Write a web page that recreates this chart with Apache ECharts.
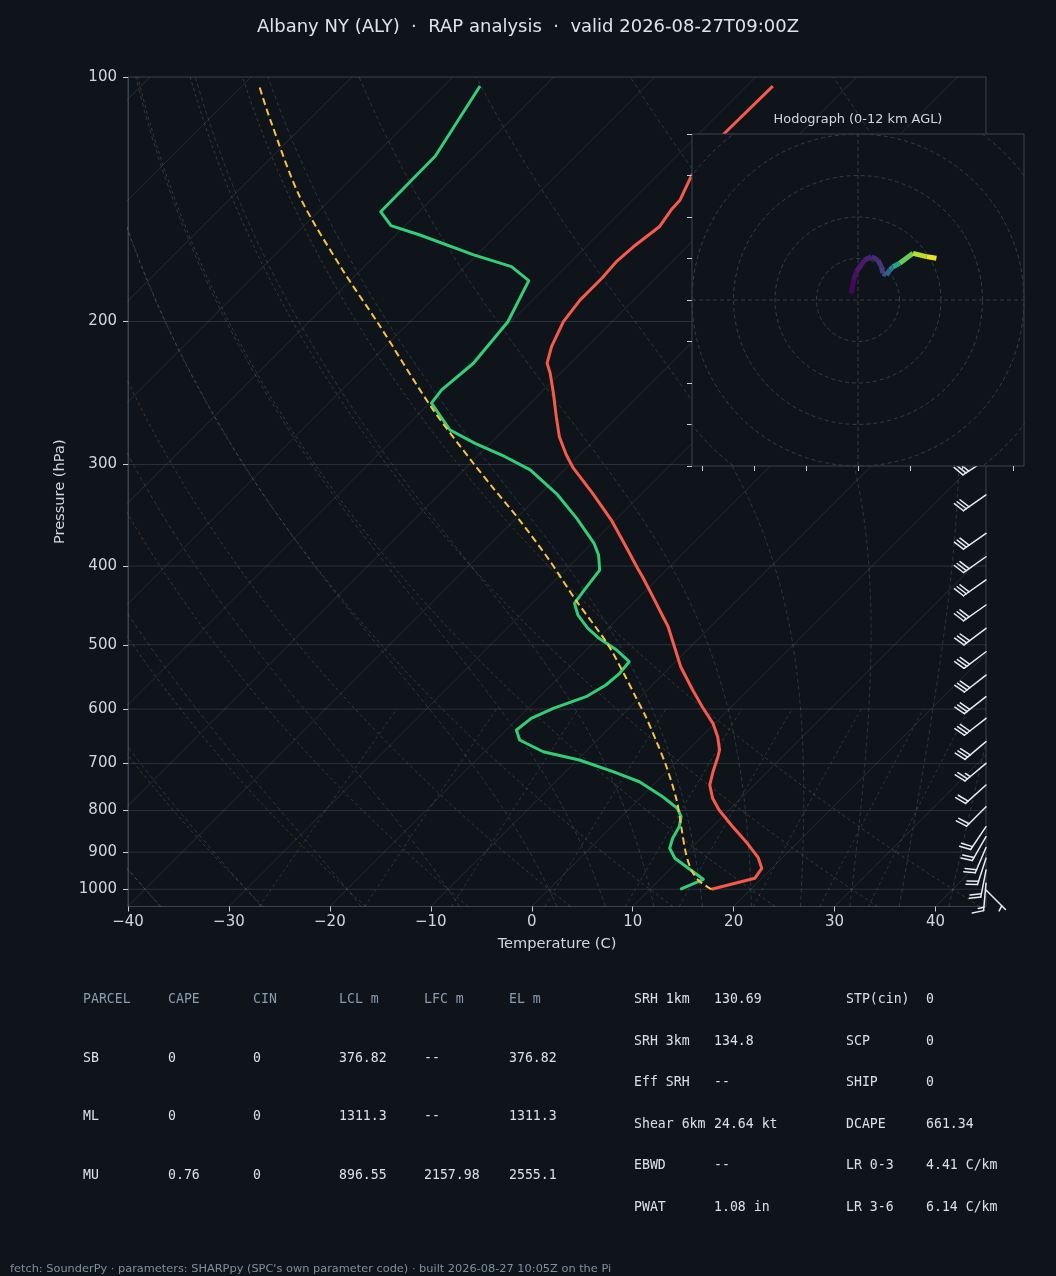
<!DOCTYPE html>
<html><head><meta charset="utf-8">
<script src="https://cdn.jsdelivr.net/npm/echarts@6/dist/echarts.min.js"></script>
<style>html,body{margin:0;padding:0;background:#0f141a;}#c{width:1056px;height:1276px;}</style>
</head><body><div id="c"></div>
<script>
// ---------------- data ----------------
const tempP = [1000, 969.3, 942.3, 914.4, 877.9, 837.4, 798.7, 772.7, 744.1, 716.5, 686.7, 673.8, 648.9, 624.7, 596.0, 568.5, 532.1, 502.8, 475.1, 461.8, 436.3, 412.3, 402.7, 378.7, 351.1, 325.5, 303.1, 292.0, 277.3, 261.9, 245.1, 231.6, 225.1, 214.8, 200.1, 188.2, 176.9, 168.8, 161.8, 152.9, 145.8, 141.7, 132.1, 117.3, 102.6];
const tempC = [16.1, 19.3, 19.0, 17.6, 15.1, 12.0, 9.0, 7.2, 5.6, 4.6, 3.6, 3.1, 1.6, -0.2, -2.9, -5.5, -9.0, -11.6, -14.2, -15.7, -18.7, -21.7, -23.0, -26.3, -30.4, -34.9, -39.3, -41.3, -43.8, -46.1, -48.7, -51.0, -52.3, -53.5, -54.8, -55.3, -55.3, -55.5, -55.3, -54.7, -55.2, -55.3, -56.6, -57.5, -57.4];
const dewP = [1000, 972.1, 915.9, 890.3, 865.4, 837.4, 814.0, 794.9, 769.2, 737.2, 716.5, 693.2, 677.1, 655.0, 636.7, 615.9, 598.7, 579.3, 560.4, 542.1, 524.6, 507.5, 491.0, 477.2, 459.6, 444.6, 430.2, 404.6, 387.7, 375.1, 349.4, 327.0, 304.6, 293.4, 282.5, 272.0, 252.1, 242.8, 225.1, 200.1, 178.1, 171.2, 165.6, 156.5, 152.4, 146.5, 125.1, 102.6];
const dewC = [13.0, 14.3, 9.4, 7.9, 7.2, 6.7, 5.9, 4.7, 2.1, -1.7, -5.3, -9.8, -14.2, -17.7, -19.0, -18.7, -17.5, -15.4, -14.6, -14.4, -14.6, -17.0, -19.9, -22.0, -24.3, -25.8, -26.1, -26.6, -28.2, -29.8, -34.0, -38.2, -43.4, -47.2, -51.5, -55.3, -59.8, -60.1, -59.6, -60.3, -62.3, -65.4, -70.3, -77.6, -81.4, -83.8, -83.9, -86.4];
const parcelP = [1000, 976.0, 946.9, 903.0, 837.4, 776.4, 706.5, 655.0, 613.2, 579.3, 542.1, 498.0, 440.5, 393.2, 351.1, 319.5, 298.9, 254.6, 201.0, 172.8, 140.4, 113.0, 103.0];
const parcelC = [16.1, 14.0, 12.2, 10.0, 6.9, 3.8, -0.5, -4.2, -7.5, -10.5, -14.0, -18.6, -26.0, -32.6, -39.5, -45.5, -49.7, -59.5, -73.0, -81.8, -93.3, -103.8, -108.1];

const barbP   = [296.0, 327.0, 364.6, 389.6, 416.1, 446.7, 477.2, 510.0, 544.8, 579.3, 615.9, 658.1, 699.7, 744.1, 791.3, 837.4, 861.5, 888.3, 916.0, 947.0, 983.0, 1002.0];
const barbSpd = [30, 30, 30, 30, 30, 30, 30, 30, 30, 30, 30, 30, 25, 20, 20, 20, 20, 20, 20, 20, 15, 5];
const barbDir = [237, 235, 235, 235, 235, 235, 233, 233, 232, 232, 232, 230, 230, 228, 225, 214, 210, 203, 198, 191, 185, 135];

const hodoU = [-3.2, -2.1, -0.8, 3.2, 6.5, 9.6, 11.3, 12.0, 13.7, 15.3, 16.9, 20.1, 26.5, 33.0, 37.8];
const hodoV = [3.2, 9.6, 13.6, 19.3, 20.9, 19.3, 16.0, 12.9, 12.0, 14.5, 16.0, 17.7, 22.5, 20.9, 20.1];
const hodoH = [0, 0.4, 0.7, 1.0, 1.3, 1.6, 1.9, 2.4, 3.0, 4.2, 6.0, 8.2, 10.2, 11.2, 12.0];

const xTicks = [-40, -30, -20, -10, 0, 10, 20, 30, 40];
const pTicks = [100, 200, 300, 400, 500, 600, 700, 800, 900, 1000];
const isobarLevels = [200, 300, 400, 500, 600, 700, 800, 900, 1000];
const isothermT0 = [-130, -120, -110, -100, -90, -80, -70, -60, -50, -40, -30, -20, -10, 0, 10, 20, 30, 40];
const dryT0 = [-40, -30, -20, -10, 0, 10, 20, 30, 40];
const moistT0 = [-40, -30, -20, -10, 0, 5, 10, 15, 20, 25, 30, 35, 40, 45];
const mixRatios = [0.0004, 0.001, 0.002, 0.004, 0.007, 0.01, 0.016, 0.024, 0.032];
const hodoRings = [20, 40, 60, 80, 100];
const hodoXTicks = [-75, -50, -25, 0, 25, 50, 75];

const tableHead = ['PARCEL', 'CAPE', 'CIN', 'LCL m', 'LFC m', 'EL m'];
const tableRows = [
  ['SB', '0', '0', '376.82', '--', '376.82'],
  ['ML', '0', '0', '1311.3', '--', '1311.3'],
  ['MU', '0.76', '0', '896.55', '2157.98', '2555.1']
];
const paramRows = [
  ['SRH 1km', '130.69', 'STP(cin)', '0'],
  ['SRH 3km', '134.8', 'SCP', '0'],
  ['Eff SRH', '--', 'SHIP', '0'],
  ['Shear 6km', '24.64 kt', 'DCAPE', '661.34'],
  ['EBWD', '--', 'LR 0-3', '4.41 C/km'],
  ['PWAT', '1.08 in', 'LR 3-6', '6.14 C/km']
];
const titleText = 'Albany NY (ALY)  \u00b7  RAP analysis  \u00b7  valid 2026-08-27T09:00Z';
const footerText = "fetch: SounderPy \u00b7 parameters: SHARPpy (SPC's own parameter code) \u00b7 built 2026-08-27 10:05Z on the Pi";

// ---------------- layout / style ----------------
const BG = '#0f141a';
const FRAME = '#3a4350';
const TXT = '#d3d7dd';
const G = {left: 128, top: 77, width: 858, height: 829.5};
const H = {left: 692, top: 134, width: 332, height: 332};
const X_MIN = -40, X_MAX = 45, P_TOP = 100, P_BOT = 1050;
const LOGB = Math.log10(P_BOT), LOGT = Math.log10(P_TOP);
const K = (G.height / (LOGB - LOGT)) / (G.width / (X_MAX - X_MIN)); // 45 deg skew
const skewX = (T, p) => T + K * (LOGB - Math.log10(p));
const pt = (T, p) => [skewX(T, p), Math.log10(p)];
const minus = v => v < 0 ? '\u2212' + Math.abs(v) : String(v);

// thermodynamic reference curves
const Rd = 287.04749, Cp = 1005.7, Lv = 2.50084e6, EPS = 0.6219569;
const es = T => 6.112 * Math.exp(17.67 * (T - 273.15) / (T - 29.65));
function dTdp(p, T) {
  const e = es(T), rs = EPS * e / (p - e);
  return (Rd * T + Lv * rs) / (Cp + Lv * Lv * rs * EPS / (Rd * T * T)) / p;
}
function integ(T, p0, p1) {
  const n = Math.max(1, Math.ceil(Math.abs(p1 - p0) / 2)), h = (p1 - p0) / n;
  let p = p0;
  for (let i = 0; i < n; i++) {
    const k1 = dTdp(p, T), k2 = dTdp(p + h / 2, T + h * k1 / 2), k3 = dTdp(p + h / 2, T + h * k2 / 2), k4 = dTdp(p + h, T + h * k3);
    T += h * (k1 + 2 * k2 + 2 * k3 + k4) / 6; p += h;
  }
  return T;
}
const samplePs = [];
for (let p = P_BOT; p >= P_TOP; p -= 10) samplePs.push(p);
const mixPs = [];
for (let p = P_BOT; p >= 600; p -= 10) mixPs.push(p);

function ls(data, color, width, type, extra) {
  return Object.assign({type: 'line', data, symbol: 'none', silent: true, animation: false,
    xAxisIndex: 0, yAxisIndex: 0, z: 2, lineStyle: {color, width, type: type || 'solid'}}, extra || {});
}

const series = [];
isothermT0.forEach(c => series.push(ls([pt(c, P_BOT), pt(c, P_TOP)], 'rgba(150,165,185,0.17)', 1)));
isobarLevels.forEach(p => series.push(ls([[X_MIN, Math.log10(p)], [X_MAX, Math.log10(p)]], 'rgba(150,165,185,0.2)', 1)));
dryT0.forEach(t0 => {
  const th = t0 + 273.15;
  series.push(ls(samplePs.map(p => pt(th * Math.pow(p / 1000, Rd / Cp) - 273.15, p)), 'rgba(190,140,80,0.30)', 1, [3, 3]));
});
moistT0.forEach(t0 => {
  let T = integ(t0 + 273.15, 1000, P_BOT);
  let prev = P_BOT;
  const d = [];
  samplePs.forEach(p => { T = integ(T, prev, p); prev = p; d.push(pt(T - 273.15, p)); });
  series.push(ls(d, 'rgba(110,150,185,0.27)', 1, [4, 3]));
});
mixRatios.forEach(w => {
  series.push(ls(mixPs.map(p => {
    const e = w * p / (EPS + w), v = Math.log(e / 6.112);
    return pt(243.5 * v / (17.67 - v), p);
  }), 'rgba(110,170,170,0.25)', 1, [3, 3]));
});
series.push(ls(tempP.map((p, i) => pt(tempC[i], p)), '#f65a4a', 3, 'solid', {z: 4, lineStyle: {color: '#f65a4a', width: 3, join: 'round'}}));
series.push(ls(dewP.map((p, i) => pt(dewC[i], p)), '#33cc77', 3, 'solid', {z: 4, lineStyle: {color: '#33cc77', width: 3, join: 'round'}}));
series.push(ls(parcelP.map((p, i) => pt(parcelC[i], p)), '#f4c542', 2, [7, 4], {z: 5, smooth: 0.3}));

// wind barbs
series.push({
  type: 'custom', xAxisIndex: 0, yAxisIndex: 0, clip: false, silent: true, animation: false, z: 6,
  data: barbP.map((p, i) => [X_MAX, Math.log10(p), barbSpd[i], barbDir[i]]),
  renderItem: (params, api) => {
    const b = api.coord([api.value(0), api.value(1)]);
    const spd = api.value(2), dir = api.value(3) * Math.PI / 180;
    const L = 27.5, FH = 0.4 * L, FW = 0.25 * L, SP = 0.125 * L;
    const dx = Math.sin(dir), dy = -Math.cos(dir);
    const fx = Math.cos(dir), fy = Math.sin(dir);
    const P = o => [b[0] + dx * o, b[1] + dy * o];
    const st = {stroke: '#e8ebef', lineWidth: 1.5, lineCap: 'round'};
    const kids = [];
    const tip = P(L);
    kids.push({type: 'line', shape: {x1: b[0], y1: b[1], x2: tip[0], y2: tip[1]}, style: st});
    const mag = 5 * Math.round(spd / 5);
    const nf = Math.floor(mag / 50), rem = mag % 50, nb = Math.floor(rem / 10), half = (rem % 10) >= 5;
    let off = L;
    for (let i = 0; i < nf; i++) {
      if (off !== L) off += SP / 2;
      const a = P(off), m = P(off - FW / 2), c = P(off - FW);
      kids.push({type: 'polygon', shape: {points: [a, [m[0] + fx * FH, m[1] + fy * FH], c]}, style: {fill: '#e8ebef'}});
      off -= FW + SP;
    }
    for (let i = 0; i < nb; i++) {
      const a = P(off), e = P(off + FW / 2);
      kids.push({type: 'line', shape: {x1: a[0], y1: a[1], x2: e[0] + fx * FH, y2: e[1] + fy * FH}, style: st});
      off -= SP;
    }
    if (half) {
      if (off === L) off -= 1.5 * SP;
      const a = P(off), e = P(off + FW / 4);
      kids.push({type: 'line', shape: {x1: a[0], y1: a[1], x2: e[0] + fx * FH / 2, y2: e[1] + fy * FH / 2}, style: st});
    }
    return {type: 'group', children: kids};
  }
});

// hodograph
const hs = (data, color, width, type, extra) => Object.assign({type: 'line', data, symbol: 'none', silent: true, animation: false,
  xAxisIndex: 1, yAxisIndex: 1, zlevel: 1, z: 3, lineStyle: {color, width, type: type || 'solid'}}, extra || {});
hodoRings.forEach(r => {
  const d = [];
  for (let a = 0; a <= 360; a += 3) d.push([r * Math.cos(a * Math.PI / 180), r * Math.sin(a * Math.PI / 180)]);
  series.push(hs(d, '#343d49', 1, [4, 3]));
});
series.push(hs([[-80, 0], [80, 0]], '#343d49', 1, [4, 3]));
series.push(hs([[0, -80], [0, 80]], '#343d49', 1, [4, 3]));
const VIR = ['#440154', '#482475', '#414487', '#355f8d', '#2a788e', '#21918c', '#22a884', '#44bf70', '#7ad151', '#bddf26', '#fde725'];
function viridis(t) {
  t = Math.max(0, Math.min(1, t)) * 10;
  const i = Math.min(9, Math.floor(t)), f = t - i;
  const a = VIR[i], b = VIR[i + 1];
  const c = k => Math.round(parseInt(a.substr(k, 2), 16) * (1 - f) + parseInt(b.substr(k, 2), 16) * f);
  return 'rgb(' + c(1) + ',' + c(3) + ',' + c(5) + ')';
}
for (let i = 0; i < hodoU.length - 1; i++) {
  const col = viridis((hodoH[i] + hodoH[i + 1]) / 2 / 12);
  series.push(hs([[hodoU[i], hodoV[i]], [hodoU[i + 1], hodoV[i + 1]]], col, 5, 'solid', {z: 5, lineStyle: {color: col, width: 5, cap: 'butt', join: 'round'}}));
}

// ---------------- graphic text ----------------
const MONO = '"DejaVu Sans Mono", monospace';
const SANS = '"DejaVu Sans", sans-serif';
const gtxt = (x, y, text, fill, size, family, align) => ({type: 'text', x, y, silent: true,
  style: {text, fill, fontSize: size, fontFamily: family, align: align || 'left', textAlign: align || 'left', verticalAlign: 'middle', textVerticalAlign: 'middle'}});
const graphics = [];
graphics.push(gtxt(528, 27, titleText, '#dfe3e8', 18, SANS, 'center'));
graphics.push(gtxt(858, 120, 'Hodograph (0-12 km AGL)', TXT, 12.9, SANS, 'center'));
const colX = [83, 168, 253, 339, 424, 509], rowY = [1000, 1058.5, 1117, 1176];
tableHead.forEach((h, j) => graphics.push(gtxt(colX[j], rowY[0], h, '#8b9bb0', 13.2, MONO)));
tableRows.forEach((r, i) => r.forEach((v, j) => graphics.push(gtxt(colX[j], rowY[i + 1], v, '#dce0e6', 13.2, MONO))));
const pColX = [634, 714, 846, 926], pRowY = [1000, 1041.5, 1083, 1124.3, 1165.6, 1207.2];
paramRows.forEach((r, i) => r.forEach((v, j) => graphics.push(gtxt(pColX[j], pRowY[i], v, '#dce0e6', 13.2, MONO))));
graphics.push(gtxt(10, 1269, footerText, '#7f8fa3', 11.35, SANS));

// ---------------- chart ----------------
const chart = echarts.init(document.getElementById('c'), null, {width: 1056, height: 1276});
chart.setOption({
  backgroundColor: BG,
  animation: false,
  grid: [
    Object.assign({show: true, borderColor: FRAME, borderWidth: 1, backgroundColor: 'transparent', containLabel: false, outerBoundsMode: 'none'}, G),
    Object.assign({show: true, borderColor: FRAME, borderWidth: 1, backgroundColor: BG, containLabel: false, outerBoundsMode: 'none', zlevel: 1, z: 0}, H)
  ],
  xAxis: [
    {type: 'value', gridIndex: 0, min: X_MIN, max: X_MAX, interval: 10,
      axisLine: {show: true, onZero: false, lineStyle: {color: FRAME}},
      axisTick: {show: true, customValues: xTicks, length: 5, lineStyle: {color: '#c9ced6'}},
      axisLabel: {show: true, customValues: xTicks, formatter: v => minus(v), color: TXT, fontSize: 15, fontFamily: SANS, margin: 8},
      splitLine: {show: false},
      name: 'Temperature (C)', nameLocation: 'middle', nameGap: 30, nameTextStyle: {color: TXT, fontSize: 14.6, fontFamily: SANS}},
    {type: 'value', gridIndex: 1, min: -80, max: 80, zlevel: 1, z: 1,
      axisLine: {show: false, onZero: false},
      axisTick: {show: true, customValues: hodoXTicks, length: 5, lineStyle: {color: '#c9ced6'}},
      axisLabel: {show: false}, splitLine: {show: false}}
  ],
  yAxis: [
    {type: 'value', gridIndex: 0, min: LOGT, max: LOGB, inverse: true,
      axisLine: {show: true, onZero: false, lineStyle: {color: FRAME}},
      axisTick: {show: true, customValues: pTicks.map(Math.log10), length: 5, lineStyle: {color: '#c9ced6'}},
      axisLabel: {show: true, customValues: pTicks.map(Math.log10), formatter: v => String(Math.round(Math.pow(10, v))), color: TXT, fontSize: 15, fontFamily: SANS, margin: 11},
      splitLine: {show: false},
      name: 'Pressure (hPa)', nameLocation: 'middle', nameGap: 49, nameRotate: 90, nameTextStyle: {color: TXT, fontSize: 14.6, fontFamily: SANS}},
    {type: 'value', gridIndex: 1, min: -80, max: 80, interval: 20, zlevel: 1, z: 1,
      axisLine: {show: false, onZero: false},
      axisTick: {show: true, length: 5, lineStyle: {color: '#c9ced6'}},
      axisLabel: {show: false}, splitLine: {show: false}}
  ],
  series,
  graphic: graphics
});
</script></body></html>
